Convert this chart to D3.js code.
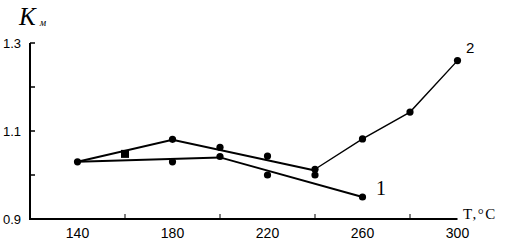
<!DOCTYPE html>
<html>
<head>
<meta charset="utf-8">
<script src="https://cdn.jsdelivr.net/npm/d3@7"></script>
<style>
  body { margin: 0; background: #fff; }
  svg { display: block; font-family: "Liberation Sans", Arial, sans-serif; }
</style>
</head>
<body>
<svg id="chart" width="509" height="243"></svg>
<script>
// fitted lines
var line1T = [140, 200, 260],
	line1K = [1.03, 1.04, 0.95];
var line2T = [140, 180, 240],
	line2K = [1.03, 1.08, 1.01];
var line2bT = [240, 260, 280, 300],
	line2bK = [1.013, 1.082, 1.143, 1.26];

// measured points
var pointsT = [140, 180, 200, 220, 240, 180, 200, 220, 240, 260, 260, 280, 300],
	pointsK = [1.03, 1.081, 1.063, 1.043, 1.013, 1.03, 1.042, 1.0, 1.0, 0.95, 1.082, 1.143, 1.26];
var squareT = [160],
	squareK = [1.048];

var xLabels = [140, 180, 220, 260, 300],
	xMinor = [160, 200, 240, 280],
	yLabels = [0.9, 1.1, 1.3],
	yMinor = [1.0, 1.2];

var serif = '"Liberation Serif", "DejaVu Serif", serif';

var svg = d3.select('#chart');

var x = d3.scaleLinear().domain([120, 300]).range([30, 457.5]),
	y = d3.scaleLinear().domain([0.9, 1.3]).range([219, 43]);

function zip(a, b) { return a.map(function (v, i) { return [v, b[i]]; }); }

var path = d3.line()
	.x(function (d) { return x(d[0]); })
	.y(function (d) { return y(d[1]); });

// axes
svg.append('line').attr('x1', 30).attr('x2', 30).attr('y1', y(1.3)).attr('y2', y(0.9))
	.attr('stroke', '#000').attr('stroke-width', 2);
svg.append('line').attr('x1', 29).attr('x2', x(300)).attr('y1', y(0.9)).attr('y2', y(0.9))
	.attr('stroke', '#000').attr('stroke-width', 2);

svg.selectAll('.ytick').data(yLabels.concat(yMinor)).enter().append('line')
	.attr('x1', 30).attr('x2', 35)
	.attr('y1', function (d) { return y(d); }).attr('y2', function (d) { return y(d); })
	.attr('stroke', '#000').attr('stroke-width', 1.5);

svg.selectAll('.xtick').data(xMinor).enter().append('line')
	.attr('x1', function (d) { return x(d); }).attr('x2', function (d) { return x(d); })
	.attr('y1', y(0.9)).attr('y2', y(0.9) - 5)
	.attr('stroke', '#000').attr('stroke-width', 1);

svg.selectAll('.ylab').data(yLabels).enter().append('text')
	.attr('x', 21).attr('y', function (d) { return y(d) + 5; })
	.attr('text-anchor', 'end').style('font-size', '13px')
	.text(function (d) { return d.toFixed(1); });

svg.selectAll('.xlab').data(xLabels).enter().append('text')
	.attr('x', function (d) { return x(d); }).attr('y', 237.5)
	.attr('text-anchor', 'middle').style('font-size', '14px')
	.style('font-family', '"Liberation Sans Narrow", "Liberation Sans", sans-serif')
	.text(function (d) { return d; });

// lines
svg.append('path').datum(zip(line1T, line1K)).attr('d', path)
	.attr('fill', 'none').attr('stroke', '#000').attr('stroke-width', 2);
svg.append('path').datum(zip(line2T, line2K)).attr('d', path)
	.attr('fill', 'none').attr('stroke', '#000').attr('stroke-width', 2);
svg.append('path').datum(zip(line2bT, line2bK)).attr('d', path)
	.attr('fill', 'none').attr('stroke', '#000').attr('stroke-width', 1.4);

// points
svg.selectAll('.pt').data(zip(pointsT, pointsK)).enter().append('circle')
	.attr('cx', function (d) { return x(d[0]); })
	.attr('cy', function (d) { return y(d[1]); })
	.attr('r', 3.6).attr('fill', '#000');
svg.selectAll('.sq').data(zip(squareT, squareK)).enter().append('rect')
	.attr('x', function (d) { return x(d[0]) - 4; })
	.attr('y', function (d) { return y(d[1]) - 4; })
	.attr('width', 8).attr('height', 8).attr('fill', '#000');

// labels
svg.append('text').attr('x', 376).attr('y', 195)
	.style('font-family', serif).style('font-size', '20px').text('1');
svg.append('text').attr('x', 466).attr('y', 53)
	.style('font-size', '15px').text('2');
svg.append('text').attr('x', 463).attr('y', 218.5)
	.style('font-family', serif).style('font-size', '15px')
	.style('letter-spacing', '1.5px').text('T,°C');
var k = svg.append('text').attr('x', 19).attr('y', 25)
	.style('font-family', serif).style('font-style', 'italic').style('font-size', '25px');
k.append('tspan').text('K');
k.append('tspan').attr('dx', 4).attr('dy', 1).style('font-size', '10px').text('м');
</script>
</body>
</html>
